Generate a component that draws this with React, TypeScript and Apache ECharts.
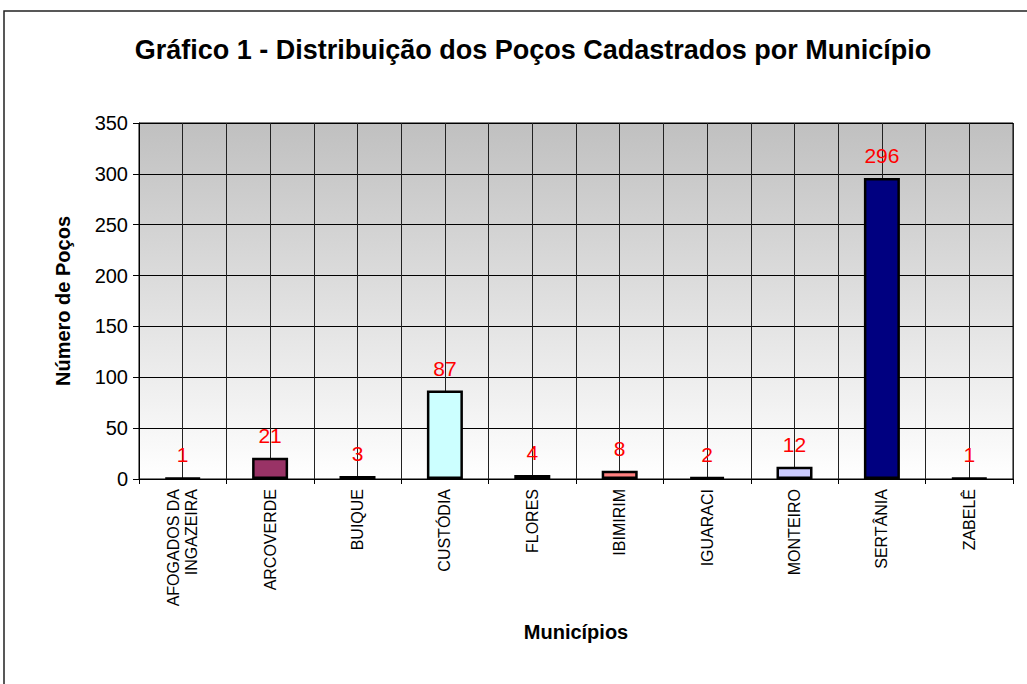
import React, { useEffect, useRef } from "react";
import * as echarts from "echarts";

const categories = [
  "AFOGADOS DA\nINGAZEIRA",
  "ARCOVERDE",
  "BUIQUE",
  "CUSTÓDIA",
  "FLORES",
  "IBIMIRIM",
  "IGUARACI",
  "MONTEIRO",
  "SERTÂNIA",
  "ZABELÊ",
];
const wells = [1, 21, 3, 87, 4, 8, 2, 12, 296, 1];
const barColors = [
  "#9999FF",
  "#993366",
  "#999966",
  "#CCFFFF",
  "#660066",
  "#FF8080",
  "#0066CC",
  "#CCCCFF",
  "#000080",
  "#FF00FF",
];
const yTicks = { min: 0, max: 350, interval: 50 };

export default function App() {
  const ref = useRef<HTMLDivElement>(null);
  useEffect(() => {
    if (!ref.current) return;
    const chart = echarts.init(ref.current, null, { renderer: "svg" });
    const font = "'Liberation Sans', Arial, sans-serif";
    chart.setOption({
      animation: false,
      backgroundColor: "#ffffff",
      title: {
        text: "Gráfico 1 - Distribuição dos Poços Cadastrados por Município",
        left: 528,
        textAlign: "center",
        top: 31,
        textStyle: { fontFamily: font, fontWeight: "bold", fontSize: 27, color: "#000" },
      },
      graphic: [
        {
          type: "rect",
          shape: { x: 4, y: 11, width: 1040, height: 700 },
          style: { fill: "none", stroke: "#222", lineWidth: 1.5 },
          silent: true,
          z: 100,
        },
      ],
      grid: {
        left: 139,
        top: 123,
        right: 14,
        bottom: 205,
        show: true,
        borderColor: "#000",
        borderWidth: 1,
        backgroundColor: new echarts.graphic.LinearGradient(0, 0, 0, 1, [
          { offset: 0, color: "#c0c0c0" },
          { offset: 1, color: "#ffffff" },
        ]),
      },
      xAxis: [
        {
          type: "category",
          data: categories,
          boundaryGap: true,
          name: "Municípios",
          nameLocation: "middle",
          nameGap: 143,
          nameTextStyle: { fontFamily: font, fontWeight: "bold", fontSize: 20, color: "#000" },
          axisLine: { lineStyle: { color: "#000", width: 1 } },
          axisTick: { show: true, length: 5, lineStyle: { color: "#000" } },
          axisLabel: {
            rotate: 90,
            interval: 0,
            margin: 10,
            fontFamily: font,
            fontSize: 16,
            color: "#000",
            lineHeight: 18,
          },
          splitLine: { show: false },
        },
        {
          type: "value",
          min: 0,
          max: 20,
          interval: 1,
          position: "top",
          axisLine: { show: false },
          axisTick: { show: false },
          axisLabel: { show: false },
          splitLine: { show: true, lineStyle: { color: "#222", width: 1 } },
        },
      ],
      yAxis: {
        type: "value",
        min: yTicks.min,
        max: yTicks.max,
        interval: yTicks.interval,
        name: "Número de Poços",
        nameLocation: "middle",
        nameGap: 66,
        nameTextStyle: { fontFamily: font, fontWeight: "bold", fontSize: 20, color: "#000" },
        axisLine: { show: true, lineStyle: { color: "#000", width: 1 } },
        axisTick: { show: true, length: 6, lineStyle: { color: "#000" } },
        axisLabel: { fontFamily: font, fontSize: 20, color: "#000", margin: 11 },
        splitLine: { show: true, lineStyle: { color: "#000", width: 1 } },
      },
      series: [
        {
          type: "bar",
          xAxisIndex: 0,
          yAxisIndex: 0,
          barWidth: 36,
          data: wells.map((v, i) => ({
            value: v,
            itemStyle: { color: barColors[i], borderColor: "#000", borderWidth: 2.5 },
          })),
          label: {
            show: true,
            position: "top",
            distance: 12,
            fontFamily: font,
            fontSize: 21,
            color: "#FF0000",
          },
          z: 3,
        },
      ],
    });
    return () => chart.dispose();
  }, []);
  return (
    <div
      ref={ref}
      style={{ position: "fixed", left: 0, top: 0, width: 1027, height: 684 }}
    />
  );
}
